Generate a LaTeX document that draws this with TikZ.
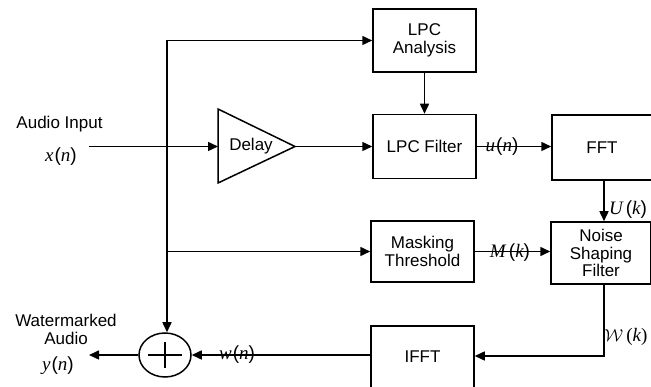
\documentclass[tikz,border=0pt]{standalone}
\usepackage{fontspec}
\setmainfont{Liberation Sans}
\newfontfamily\lser{Liberation Serif}
\usetikzlibrary{arrows.meta,shapes.geometric,calc}
\newcommand{\ml}[1]{{\lser\itshape #1}}
\tikzset{
  blk/.style={draw, line width=1.5pt, minimum width=103pt, minimum height=63pt, inner sep=0pt, align=center, font=\fontsize{17}{17.5}\selectfont},
  sig/.style={line width=1.5pt},
  arr/.style={line width=1.5pt, -{Triangle[length=10pt,width=9pt]}},
  lbl/.style={inner sep=0pt, font=\fontsize{19}{20}\selectfont},
  txt/.style={inner sep=0pt, align=center, font=\fontsize{17}{18}\selectfont}
}
\begin{document}
\begin{tikzpicture}[x=1pt,y=-1pt]
\useasboundingbox (0,0) rectangle (651,387);
\clip (0,0) rectangle (651,387);
% blocks
\node[blk] (lpca) at (424.5,40.5) {LPC\\Analysis};
\node[blk, minimum height=64pt] (lpcf) at (424.5,146.5) {LPC Filter};
\node[blk, minimum width=100pt, minimum height=65pt] (fft) at (602,147.5) {FFT};
\node[blk, minimum height=61pt] (mask) at (422.5,251.5) {Masking\\Threshold};
\node[blk, minimum width=100pt, minimum height=62pt] (nsf) at (601,253) {Noise\\Shaping\\Filter};
\node[blk, minimum height=62pt] (ifft) at (422.5,357) {IFFT};
% delay
\draw[line width=1.5pt, line join=miter] (218,109) -- (218,183) -- (295,146.5) -- cycle;
\node[txt] (delay) at (251,146.5) {Delay};
\coordinate (dl) at (218,146.5);
\coordinate (dr) at (295,146.5);
% sum
\node[draw, ellipse, line width=1.5pt, minimum width=52pt, minimum height=44pt, inner sep=0pt] (sum) at (165,355) {};
\draw[line width=1.5pt] ($(sum.center)+(-17,0)$) -- ($(sum.center)+(17,0)$);
\draw[line width=1.5pt] ($(sum.center)+(0,-13)$) -- ($(sum.center)+(0,13)$);
% coordinates
\coordinate (in) at (89,146.5);
\coordinate (jin) at (167,146.5);
\coordinate (jtop) at (167,40.5);
\coordinate (jmask) at (167,251.5);
\coordinate (out) at (89,355);
\coordinate (cnr) at (604,356);
% connectors
\draw[arr] (in) -- (dl);
\draw[arr] (dr) -- (lpcf.west);
\draw[arr] (jtop) -- (lpca.west);
\draw[sig] (jtop) -- (jin);
\draw[arr] (jin) -- (sum.north -| jin);
\draw[arr] (jmask) -- (mask.west);
\draw[arr] (lpca.south) -- (lpcf.north);
\draw[arr] (lpcf.east) -- (lpcf.east -| fft.west);
\draw[arr] (fft.south -| cnr) -- (nsf.north -| cnr);
\draw[arr] (mask.east) -- (nsf.west |- mask.east);
\draw[arr] (nsf.south -| cnr) -- (cnr) -- (ifft.east |- cnr);
\draw[arr] (ifft.west |- sum) -- (sum.east);
\draw[arr] (sum.west) -- (out);
% labels
\node[txt] (ain) at (59.5,124) {Audio Input};
\node[lbl] (xn) at (61,157) {\ml{x}\kern1pt(\ml{n})};
\node[txt] (wma) at (66,329) {Watermarked\\Audio};
\node[lbl] (yn) at (58,366) {\ml{y}\kern1pt(\ml{n})};
\node[lbl] (un) at (502,146.5) {\ml{u}\kern1pt(\ml{n})};
\node[lbl] (mk) at (510,253) {\ml{M}\,(\ml{k})};
\node[lbl] (uk) at (628,210) {\ml{U}\,(\ml{k})};
\node[lbl] (wk) at (626,337) {$\mathcal{W}$\,{\lser(\itshape k\upshape)}};
\node[lbl] (wn) at (237,355) {\ml{w}\kern1pt(\ml{n})};
\end{tikzpicture}
\end{document}
